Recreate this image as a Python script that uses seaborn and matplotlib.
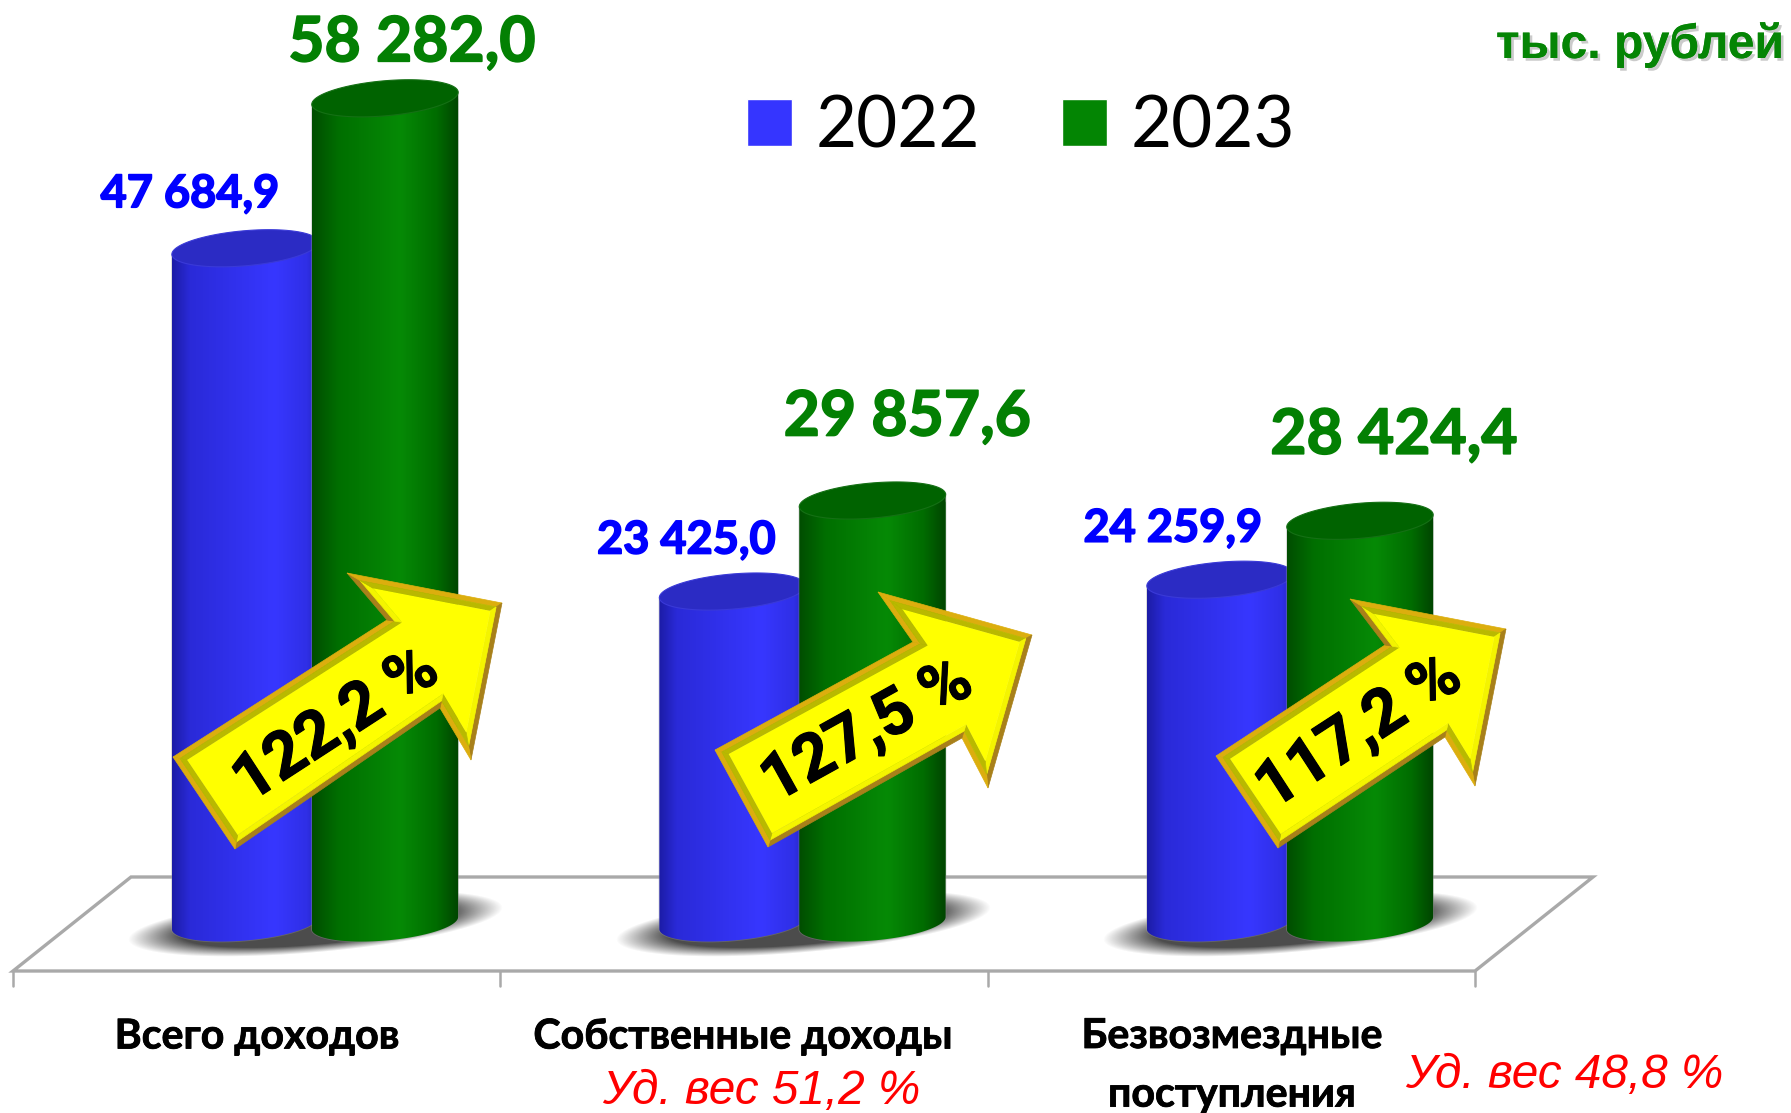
import numpy as np
import pandas as pd
import seaborn as sns
import matplotlib.patheffects as pe
from matplotlib import pyplot as plt
from matplotlib.colors import LinearSegmentedColormap
from matplotlib.patches import Polygon
from matplotlib.path import Path

# Data
categories = ['Всего доходов', 'Собственные доходы', 'Безвозмездные\nпоступления']
years = ['2022', '2023']
values_2022 = [47684.9, 23425.0, 24259.9]
values_2023 = [58282.0, 29857.6, 28424.4]
growth = ['122,2 %', '127,5 %', '117,2 %']
shares = [None, 'Уд. вес 51,2 %', 'Уд. вес 48,8 %']
unit = 'тыс. рублей'

W, H = 1791, 1113
BASE = 923          # pixel row of value 0
PX_PER_UNIT = 0.01415
GROUP_X = [315, 803, 1290]

BLUE = '#3535ff'
GREEN = '#038503'

df = pd.DataFrame({
    'cat': categories * 2,
    'year': [years[0]] * 3 + [years[1]] * 3,
    'value': values_2022 + values_2023,
})

sns.set_theme(style='white')
plt.rcParams['font.family'] = ['Lato', 'Open Sans', 'DejaVu Sans']

fig = plt.figure(figsize=(W / 100, H / 100), dpi=100, facecolor='white')
left = (GROUP_X[0] - 243.75) / W
ax = fig.add_axes([left, (H - BASE) / H, 1462.5 / W, BASE / H])
sns.barplot(data=df, x='cat', y='value', hue='year', palette=[BLUE, GREEN],
            width=0.574, gap=-0.05, saturation=1, ax=ax, zorder=2)
ax.set_xlim(-0.5, 2.5)
ax.set_ylim(0, BASE / PX_PER_UNIT)
ax.set_axis_off()

handles, labels = ax.get_legend_handles_labels()
ax.legend(handles, labels, loc='center', bbox_to_anchor=(1021 / W, 1 - 127 / H),
          bbox_transform=fig.transFigure, ncols=2, frameon=False, fontsize=51,
          labelcolor='black', handlelength=0.64, handleheight=0.64,
          handletextpad=0.33, columnspacing=1.15)

# pixel overlay for the 3D look
ov = fig.add_axes([0, 0, 1, 1], facecolor='none')
ov.set_xlim(0, W)
ov.set_ylim(H, 0)
ov.set_axis_off()


def ellipse_pts(cx, cy, a, b, tilt=5.0, n=120):
    t = np.linspace(0, 2 * np.pi, n)
    r = np.radians(tilt)
    x = a * np.cos(t)
    y = b * np.sin(t)
    return np.column_stack([cx + x * np.cos(r) - y * np.sin(r),
                            cy - x * np.sin(r) - y * np.cos(r)])


def inset(poly, d):
    # move every edge of a polygon inward by d pixels
    out = []
    n = len(poly)
    area = 0.5 * np.sum(poly[:, 0] * np.roll(poly[:, 1], -1) - np.roll(poly[:, 0], -1) * poly[:, 1])
    sign = 1 if area > 0 else -1
    for i in range(n):
        p0, p1, p2 = poly[i - 1], poly[i], poly[(i + 1) % n]
        e1 = (p1 - p0) / np.linalg.norm(p1 - p0)
        e2 = (p2 - p1) / np.linalg.norm(p2 - p1)
        n1 = sign * np.array([-e1[1], e1[0]])
        n2 = sign * np.array([-e2[1], e2[0]])
        A = np.array([e1, -e2]).T
        s = np.linalg.solve(A, (p1 + n2 * d) - (p1 + n1 * d))
        out.append(p1 + n1 * d + e1 * s[0])
    return np.array(out)


def draw_arrow(pts):
    pts = np.array(pts, dtype=float)
    mid = inset(pts, 5)
    inner = inset(pts, 10)
    area = 0.5 * np.sum(pts[:, 0] * np.roll(pts[:, 1], -1) - np.roll(pts[:, 0], -1) * pts[:, 1])
    sign = 1 if area > 0 else -1
    n = len(pts)
    for i in range(n):
        j = (i + 1) % n
        e = pts[j] - pts[i]
        nrm = sign * np.array([-e[1], e[0]]) / np.linalg.norm(e)
        # inward normal pointing down means a top lit edge
        lit = nrm[1] * 0.8 + nrm[0] * 0.6 > 0
        outer_c = '#dcae0e' if lit else '#a8801a'
        inner_c = '#b9b900' if lit else '#f4f400'
        ov.add_patch(Polygon([pts[i], pts[j], mid[j], mid[i]], fc=outer_c, ec=outer_c, lw=0.5, zorder=20))
        ov.add_patch(Polygon([mid[i], mid[j], inner[j], inner[i]], fc=inner_c, ec=inner_c, lw=0.5, zorder=20))
    ov.add_patch(Polygon(inner, fc='#ffff00', ec='none', zorder=21))


# floor
floor_c = '#a9a9a9'
ov.add_patch(Polygon([(13, 971), (131, 877), (1593, 877), (1475, 971)], closed=True,
                     fc='white', ec=floor_c, lw=2.4, zorder=1))
for tx in [13, 500, 988, 1475]:
    ov.plot([tx, tx], [971, 986], color=floor_c, lw=1.8, zorder=1)

# shadows under every pair
ys, xs = np.mgrid[880:970, 0:W]
for gx in GROUP_X:
    r = np.radians(5)
    dx, dy = xs - gx, ys - 923
    u = dx * np.cos(r) - dy * np.sin(r)
    v = dx * np.sin(r) + dy * np.cos(r)
    rr = np.sqrt((u / 188) ** 2 + (v / 29) ** 2)
    alpha = np.clip((1 - rr) / 0.28, 0, 1) * 0.88
    rgba = np.zeros(xs.shape + (4,))
    rgba[..., :3] = 0.2
    rgba[..., 3] = alpha
    ov.imshow(rgba, extent=(0, W, 970, 880), aspect='auto', zorder=2, interpolation='bilinear')

blue_cm = LinearSegmentedColormap.from_list('b', [(0, '#1c1ca6'), (0.12, '#2a2ad8'), (0.7, '#3737ff'), (0.92, '#2f2fe6'), (1, '#2222b8')])
green_cm = LinearSegmentedColormap.from_list('g', [(0, '#004d00'), (0.18, '#006f00'), (0.6, '#068a06'), (0.85, '#006c00'), (1, '#004400')])
grad = np.linspace(0, 1, 256).reshape(1, -1)

# cylinders, built on the bars seaborn drew
bars = [p for p in ax.patches if p.get_height() > 0]
tilt_dy = 6.5
for i, bar in enumerate(bars):
    (x0, y0), (x1, y1) = ax.transData.transform([(bar.get_x(), 0), (bar.get_x() + bar.get_width(), bar.get_height())])
    top = H - y1
    base = H - y0
    cx = (x0 + x1) / 2
    a = (x1 - x0) / 2
    is_blue = i < 3
    b = 17.5
    # lower half of base ellipse from the left end to the right end
    t = np.linspace(np.pi, 2 * np.pi, 60)
    rad = np.radians(5)
    low = np.column_stack([cx + a * np.cos(t) * np.cos(rad) - b * np.sin(t) * np.sin(rad),
                           base - a * np.cos(t) * np.sin(rad) - b * np.sin(t) * np.cos(rad)])
    body = np.vstack([[[low[0, 0], top + tilt_dy]], low, [[low[-1, 0], top - tilt_dy]]])
    clip = Polygon(body, closed=True, transform=ov.transData)
    bar.set_clip_path(Path(body), ov.transData)
    ov.add_patch(Polygon(body, closed=True, fc='none', ec='#999999', lw=1.2, alpha=0.35,
                         zorder=3 if is_blue else 5))
    im = ov.imshow(grad, extent=(x0, x1, base + b + 5, top - b), aspect='auto',
                   cmap=blue_cm if is_blue else green_cm, zorder=4 if is_blue else 6)
    im.set_clip_path(clip)
    lid = ellipse_pts(cx, top, a, b)
    ov.add_patch(Polygon(lid, closed=True, fc='#2b2bc4' if is_blue else '#006300',
                         ec='#3a3ad8' if is_blue else '#157015', lw=0.8,
                         zorder=5 if is_blue else 7))

ov.set_xlim(0, W)
ov.set_ylim(H, 0)

# value labels
label_dx = [-55, -46, -47, 27, 35, 34]
label_dy = [54, 51, 51, 55, 83, 85]
all_values = values_2022 + values_2023
for i, bar in enumerate(bars):
    txt = f'{all_values[i]:,.1f}'.replace(',', ' ').replace('.', ',')
    x_px = ax.transData.transform((bar.get_x() + bar.get_width() / 2, 0))[0] + label_dx[i]
    y_px = BASE - all_values[i] * PX_PER_UNIT - label_dy[i]
    col = '#0000ff' if i < 3 else '#038003'
    ov.text(x_px, y_px, txt, ha='center', va='center', fontweight='bold',
            fontsize=32.5 if i < 3 else 45, color=col, zorder=15,
            path_effects=[pe.withStroke(linewidth=1.2, foreground=col)])

# arrows with growth
arrow_pts = [
    [(173, 757), (387, 620), (347, 573), (502, 603), (471, 760), (440, 708), (235, 849)],
    [(715, 750), (913, 642), (878, 592), (1032, 635), (988, 788), (962, 738), (768, 847)],
    [(1216, 756), (1385, 645), (1350, 599), (1506, 629), (1475, 786), (1445, 737), (1278, 848)],
]
arrow_text = [(336, 726, 33), (867, 732, 29), (1359, 733, 33)]
for pts, lab, (tx, ty, rot) in zip(arrow_pts, growth, arrow_text):
    draw_arrow(pts)
    ov.text(tx, ty, lab, ha='center', va='center', rotation=rot, rotation_mode='anchor',
            fontsize=47, fontweight='bold', family=['Roboto'], color='black', zorder=25,
            path_effects=[pe.withStroke(linewidth=0.8, foreground='black')])

# category labels
cat_x = [257, 743, 1232]
for x, c in zip(cat_x, categories):
    two_lines = '\n' in c
    ov.text(x, 1018 if two_lines else 1037, c, ha='center', va='top' if two_lines else 'center',
            fontsize=29.6, fontweight='bold', color='black', zorder=15, linespacing=1.72,
            path_effects=[pe.withStroke(linewidth=0.6, foreground='black')])

# shares
ov.text(761, 1092, shares[1], ha='center', va='center', fontsize=34.4, style='italic',
        family=['Liberation Sans'], color='#ff0000')
ov.text(1564, 1075, shares[2], ha='center', va='center', fontsize=34.4, style='italic',
        family=['Liberation Sans'], color='#ff0000')

# unit
ov.text(1640, 45, unit, ha='center', va='center', fontsize=34.6, fontweight='bold',
        family=['Liberation Sans'], color='#058505',
        path_effects=[pe.withSimplePatchShadow(offset=(2, -2), shadow_rgbFace='#999999', alpha=0.5),
                      pe.Normal()])

fig.savefig('out.png', dpi=100, facecolor='white')
